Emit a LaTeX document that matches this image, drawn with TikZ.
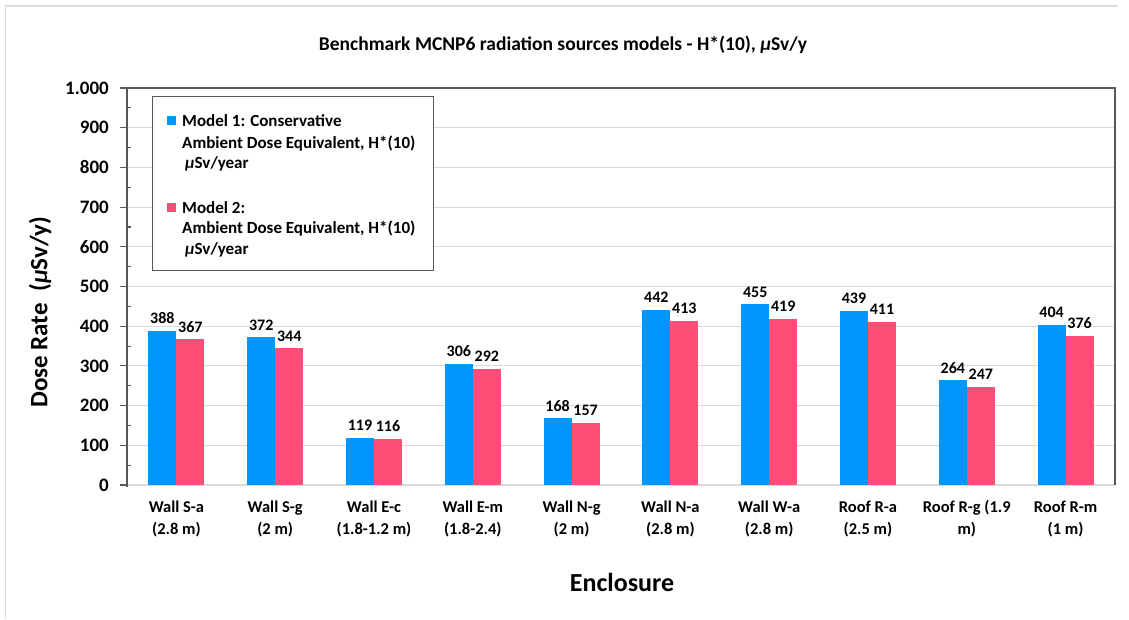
\documentclass[tikz,border=0pt]{standalone}
\usepackage{fontspec}
\setmainfont{Carlito}
\definecolor{modelA}{HTML}{0096FF}
\definecolor{modelB}{HTML}{FF4F78}
\definecolor{gridgray}{HTML}{D9D9D9}
\definecolor{axisgray}{HTML}{595959}
\definecolor{framegray}{HTML}{DCDCDC}
\tikzset{
  gridline/.style={draw=gridgray, line width=1.1pt},
  axisline/.style={draw=axisgray, line width=1.1pt},
  ticklabel/.style={anchor=east, inner sep=0pt, font=\bfseries\fontsize{19}{22}\selectfont},
  valuelabel/.style={anchor=center, inner sep=0pt, font=\bfseries\fontsize{16}{18}\selectfont},
  catlabel/.style={anchor=center, align=center, inner sep=0pt, font=\bfseries\fontsize{16.5}{22}\selectfont},
  legendtext/.style={anchor=base west, inner sep=0pt, font=\bfseries\fontsize{17}{20}\selectfont},
  legendkey/.style={minimum width=9pt, minimum height=9pt, inner sep=0pt},
}
\begin{document}
\begin{tikzpicture}[x=1pt, y=-1pt]
\useasboundingbox (0,0) rectangle (1129,619);
\fill[white] (0,0) rectangle (1129,619);
% outer chart frame (left and top edges)
\draw[framegray, line width=1.2pt] (5.5,619) -- (5.5,6) -- (1118,6);

% horizontal gridlines every 100
\foreach \v in {100,200,...,1000}
  \draw[gridline] (127,{485-0.397*\v}) -- (1115,{485-0.397*\v});
% category axis
\draw[gridline] (127,485) -- (1115,485);

% title
\node[anchor=base, inner sep=0pt, font=\bfseries\fontsize{19.5}{22}\selectfont] (title) at (563,50)
  {Benchmark MCNP6 radiation sources models - H*(10), \textit{μ}Sv/y};

% bars, value labels and category labels
\foreach \i/\a/\b/\ca/\cb in {
  1/388/367/Wall S-a/(2.8 m),
  2/372/344/Wall S-g/(2 m),
  3/119/116/Wall E-c/(1.8-1.2 m),
  4/306/292/Wall E-m/(1.8-2.4),
  5/168/157/Wall N-g/(2 m),
  6/442/413/Wall N-a/(2.8 m),
  7/455/419/Wall W-a/(2.8 m),
  8/439/411/Roof R-a/(2.5 m),
  9/264/247/Roof R-g (1.9/m),
  10/404/376/Roof R-m/(1 m)}{
  \pgfmathsetmacro\cx{127+98.8*(\i-0.5)}
  \pgfmathsetmacro\ya{485-0.397*\a}
  \pgfmathsetmacro\yb{485-0.397*\b}
  \fill[modelA] ({\cx-28},485) rectangle (\cx,\ya);
  \fill[modelB] (\cx,485) rectangle ({\cx+28},\yb);
  \node[valuelabel] (va\i) at ({\cx-14},{\ya-12.5}) {\a};
  \node[valuelabel] (vb\i) at ({\cx+14},{\yb-12.5}) {\b};
  \node[catlabel] (cat\i) at (\cx,519) {\ca\\\cb};
}

% plot frame
\draw[axisline] (127,88) -- (1115,88) -- (1115,485);
\draw[axisline] (127,88) -- (127,487);
% major and minor ticks of the value axis
\foreach \v in {0,100,...,1000}
  \draw[axisline] (120,{485-0.397*\v}) -- (127,{485-0.397*\v});
\foreach \v in {50,150,...,950}
  \draw[axisline] (127,{485-0.397*\v}) -- (131,{485-0.397*\v});
\foreach \v in {0,100,...,900}
  \node[ticklabel] (t\v) at (109,{485-0.397*\v}) {\v};
\node[ticklabel] (t1000) at (109,88) {1.000};

% axis titles
\node[rotate=90, inner sep=0pt, font=\bfseries\fontsize{25}{28}\selectfont] (ytitle) at (40,312)
  {Dose Rate~~(\textit{μ}Sv/y)};
\node[inner sep=0pt, font=\bfseries\fontsize{26}{30}\selectfont] (xtitle) at (622,582) {Enclosure};

% legend
\draw[axisline, fill=white, line width=1pt] (152,96) rectangle (433,270);
\node[legendkey, fill=modelA] (keyA) at (171.5,120) {};
\node[legendkey, fill=modelB] (keyB) at (171.5,207) {};
\node[legendtext] (la1) at (182,126) {Model 1: Conservative};
\node[legendtext] (la2) at (182,148) {Ambient Dose Equivalent, H*(10)};
\node[legendtext] (la3) at (185,168) {\textit{μ}Sv/year};
\node[legendtext] (lb1) at (182,213) {Model 2:};
\node[legendtext] (lb2) at (182,233) {Ambient Dose Equivalent, H*(10)};
\node[legendtext] (lb3) at (185,254) {\textit{μ}Sv/year};
\end{tikzpicture}
\end{document}
